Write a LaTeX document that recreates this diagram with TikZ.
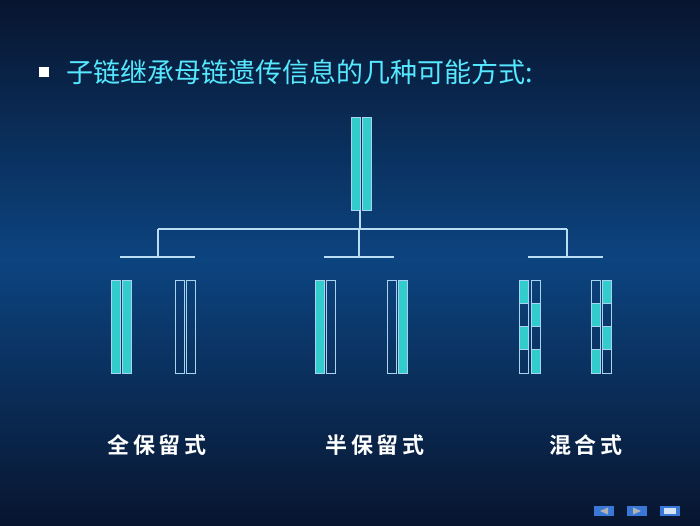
\documentclass[tikz,border=0pt]{standalone}
\usepackage{fontspec}
\newfontfamily\cjk{Noto Sans CJK SC}
\newfontfamily\cjkb{Noto Sans CJK SC Bold}
\definecolor{bgtop}{HTML}{08152F}
\definecolor{bgmid}{HTML}{0C4480}
\definecolor{teal}{HTML}{33CCCC}
\definecolor{edge}{HTML}{A8D4F0}
\definecolor{titlec}{HTML}{55E8FF}
\definecolor{btn}{HTML}{3A78D8}
\begin{document}
\begin{tikzpicture}[x=1pt,y=-1pt,
  full/.style={draw=edge,line width=0.8pt,fill=teal},
  hollow/.style={draw=edge,line width=0.8pt,fill=none},
  tree/.style={draw=edge!80!white,line width=2.2pt},
  lab/.style={font=\cjkb\fontsize{22}{22}\selectfont,text=white}]
\shade[top color=bgtop,bottom color=bgmid] (0,0) rectangle (700,260);
\shade[top color=bgmid,bottom color=bgtop] (0,260) rectangle (700,525);
\useasboundingbox (0,0) rectangle (700,525);
\fill[white] (39,67) rectangle (49,77);
\node[anchor=west,text=titlec,font=\cjk\fontsize{27}{27}\selectfont,inner sep=0] (title) at (66,72) {子链继承母链遗传信息的几种可能方式:};
\node[full,minimum width=9pt,minimum height=93pt,inner sep=0] (p1) at (355.5,163.5) {};
\node[full,minimum width=9pt,minimum height=93pt,inner sep=0] (p2) at (366.5,163.5) {};
\coordinate (top) at (360,210);
\coordinate (mid) at (360,229);
\coordinate (l) at (158,229);\coordinate (r) at (567,229);
\draw[tree] (top)--(mid);
\draw[tree] (l)--(r);
\draw[tree] (l)--(158,257);\draw[tree] (359,229)--(359,257);\draw[tree] (r)--(567,257);
\draw[tree] (120,257)--(195,257);\draw[tree] (324,257)--(394,257);\draw[tree] (528,257)--(603,257);
\newcommand{\strandF}[1]{\draw[full] (#1,280) rectangle ++(9,93);}
\newcommand{\strandH}[1]{\draw[hollow] (#1,280) rectangle ++(9,93);}
\strandF{111}\strandF{122}\strandH{175}\strandH{186}
\strandF{315}\strandH{326}\strandH{387}\strandF{398}
\newcommand{\seg}[3]{\draw[#3] (#1,#2) rectangle ++(9,23.25);}
\foreach \x/\a/\b in {519/full/hollow,531/hollow/full,591/hollow/full,602/full/hollow}{
  \seg{\x}{280}{\a}\seg{\x}{303.25}{\b}\seg{\x}{326.5}{\a}\seg{\x}{349.75}{\b}}
\node[lab] (a) at (157,445) {全\,保\,留\,式};
\node[lab] (b) at (375,445) {半\,保\,留\,式};
\node[lab] (c) at (586,445) {混\,合\,式};
\fill[btn] (594,506) rectangle (614,516);
\fill[btn] (627,506) rectangle (647,516);
\fill[btn] (660,506) rectangle (680,516);
\fill[gray!60] (600,511) -- (608,507.5) -- (608,514.5) -- cycle;
\fill[gray!60] (641,511) -- (633,507.5) -- (633,514.5) -- cycle;
\fill[white!80!btn] (664,508) rectangle (676,514);
\end{tikzpicture}
\end{document}
